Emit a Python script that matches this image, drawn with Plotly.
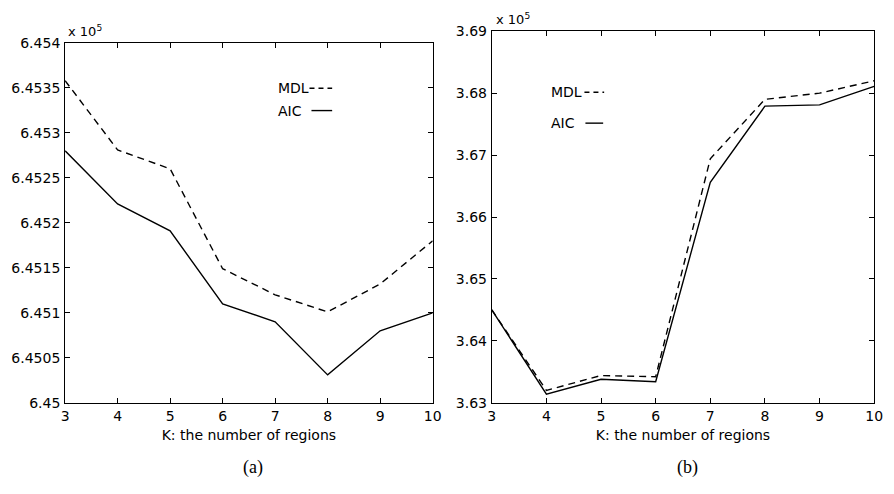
import plotly.graph_objects as go

# ---- data (values in units of 1e5) ----
K = [3, 4, 5, 6, 7, 8, 9, 10]

mdl_a = [6.45358, 6.45281, 6.45260, 6.45149, 6.45120, 6.45101, 6.45132, 6.45180]
aic_a = [6.45280, 6.45221, 6.45191, 6.45110, 6.45090, 6.45031, 6.45080, 6.45100]

mdl_b = [3.6450, 3.6320, 3.6344, 3.6342, 3.6694, 3.6790, 3.6800, 3.6820]
aic_b = [3.6450, 3.6314, 3.6338, 3.6334, 3.6656, 3.6779, 3.6781, 3.6811]

yticks_a = [6.45, 6.4505, 6.451, 6.4515, 6.452, 6.4525, 6.453, 6.4535, 6.454]
yticklabels_a = ["6.45", "6.4505", "6.451", "6.4515", "6.452", "6.4525", "6.453", "6.4535", "6.454"]
yticks_b = [3.63, 3.64, 3.65, 3.66, 3.67, 3.68, 3.69]
yticklabels_b = ["3.63", "3.64", "3.65", "3.66", "3.67", "3.68", "3.69"]

xlabel = "K: the number of regions"
captions = ["(a)", "(b)"]

W, H = 894, 494
FONT = "DejaVu Sans"
FS = 14

def px(x):
    return x / W

def py(y):
    return 1 - y / H

fig = go.Figure()

lw = 1.4
fig.add_trace(go.Scatter(x=K, y=mdl_a, mode="lines", line=dict(color="black", width=lw, dash="7px,5px"),
                         xaxis="x", yaxis="y", showlegend=False, hoverinfo="skip"))
fig.add_trace(go.Scatter(x=K, y=aic_a, mode="lines", line=dict(color="black", width=lw),
                         xaxis="x", yaxis="y", showlegend=False, hoverinfo="skip"))
fig.add_trace(go.Scatter(x=K, y=mdl_b, mode="lines", line=dict(color="black", width=lw, dash="7px,5px"),
                         xaxis="x2", yaxis="y2", showlegend=False, hoverinfo="skip"))
fig.add_trace(go.Scatter(x=K, y=aic_b, mode="lines", line=dict(color="black", width=lw),
                         xaxis="x2", yaxis="y2", showlegend=False, hoverinfo="skip"))

axis_common = dict(showgrid=False, zeroline=False, showline=True, linecolor="black", linewidth=1,
                   mirror="ticks", ticks="inside", ticklen=5, tickcolor="black",
                   tickfont=dict(family=FONT, size=FS, color="black"))

fig.update_layout(
    width=W, height=H,
    margin=dict(l=0, r=0, t=0, b=0),
    paper_bgcolor="white", plot_bgcolor="white",
    xaxis=dict(domain=[px(62), px(435)], range=[3, 10], tickvals=K, ticktext=[str(k) for k in K],
               anchor="y", title=dict(text=xlabel, font=dict(family=FONT, size=FS, color="black"), standoff=7),
               **axis_common),
    yaxis=dict(domain=[py(408), py(36)], range=[6.45, 6.454], tickvals=yticks_a, ticktext=yticklabels_a,
               anchor="x", ticklabelstandoff=1, **axis_common),
    xaxis2=dict(domain=[px(495), px(883)], range=[3, 10], tickvals=K, ticktext=[str(k) for k in K],
                anchor="y2", title=dict(text=xlabel, font=dict(family=FONT, size=FS, color="black"), standoff=7),
                **axis_common),
    yaxis2=dict(domain=[py(408), py(24)], range=[3.63, 3.69], tickvals=yticks_b, ticktext=yticklabels_b,
                anchor="x2", ticklabelstandoff=1, **axis_common),
)

ann = []
# exponent labels
ann.append(dict(text="x 10<sup>5</sup>", x=px(63), y=py(34), xref="paper", yref="paper",
                xanchor="left", yanchor="bottom", showarrow=False,
                font=dict(family=FONT, size=13, color="black")))
ann.append(dict(text="x 10<sup>5</sup>", x=px(497), y=py(22), xref="paper", yref="paper",
                xanchor="left", yanchor="bottom", showarrow=False,
                font=dict(family=FONT, size=13, color="black")))
# legend texts
for txt, x, y in [("MDL", 276, 83), ("AIC", 276, 106), ("MDL", 553, 87), ("AIC", 553, 119)]:
    ann.append(dict(text=txt, x=px(x), y=py(y), xref="paper", yref="paper", xanchor="left",
                    yanchor="middle", showarrow=False, font=dict(family=FONT, size=FS, color="black")))
# captions
for txt, x in zip(captions, [253, 694]):
    ann.append(dict(text=txt, x=px(x), y=py(475), xref="paper", yref="paper", xanchor="center",
                    yanchor="middle", showarrow=False,
                    font=dict(family="Liberation Serif", size=18, color="black")))
fig.update_layout(annotations=ann)

shapes = []
for x0, x1, y, dash in [(310, 333, 83, "5px,4px"), (312, 333, 106, "solid"),
                        (589, 609, 87, "5px,4px"), (590, 608, 119, "solid")]:
    shapes.append(dict(type="line", xref="paper", yref="paper", x0=px(x0), x1=px(x1), y0=py(y), y1=py(y),
                       line=dict(color="black", width=lw, dash=dash)))
fig.update_layout(shapes=shapes)

fig.write_html("out.html", config={"displayModeBar": False},
               post_script="document.body.style.margin='0';document.body.style.overflow='hidden';")
